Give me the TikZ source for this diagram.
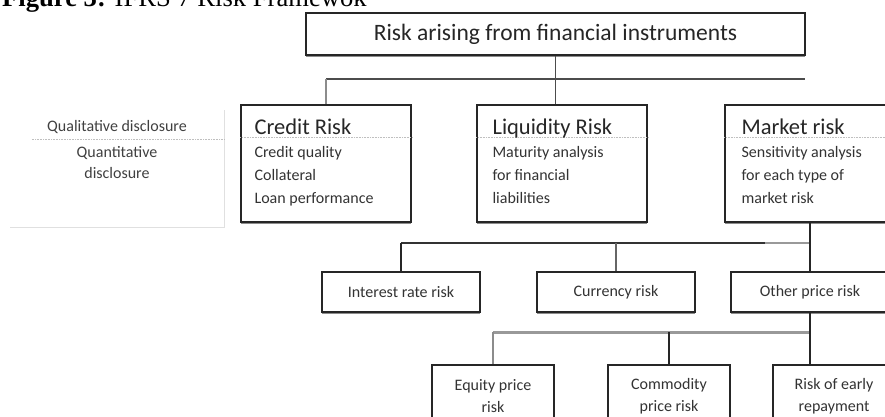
\documentclass[tikz,border=0pt]{standalone}
\usepackage{fontspec}
\setmainfont{Carlito}
\newfontfamily\titlefont{Liberation Serif}
\usetikzlibrary{positioning,shadows}

\tikzset{
  box/.style={draw=black!85, line width=1.3pt, fill=white, inner sep=0pt,
    drop shadow={shadow xshift=0pt, shadow yshift=-1.6pt, fill=black!45, opacity=1}},
  head/.style={font=\fontsize{22.5}{25}\selectfont, text=black!85, inner sep=0pt, anchor=north west},
  body/.style={font=\fontsize{16}{23}\selectfont, text=black!80, inner sep=0pt, align=left},
  faint/.style={draw=black!12, line width=1pt},
  sepline/.style={draw=black!25, line width=0.6pt, densely dotted},
  bus/.style={draw=black!70, line width=2.6pt},
  conn/.style={draw=black!85, line width=1.6pt},
  lightconn/.style={draw=black!45, line width=1.6pt}
}

\begin{document}
\begin{tikzpicture}[x=1pt, y=-1pt]
    \useasboundingbox (0,0) rectangle (885,416);
    \clip (0,0) rectangle (885,416);

    % titre (coupé en haut)
    \node[anchor=base west, inner sep=0pt, font=\titlefont\fontsize{26.6}{30}\selectfont] (title) at (2,6)
      {\textbf{Figure 3:} IFRS 7 Risk Framewok};

    % boîte racine
    \node[box, minimum width=499pt, minimum height=42pt, font=\fontsize{23.5}{26}\selectfont, text=black!85]
      (root) at (555.5,34) {Risk arising from financial instruments};

    % légende à gauche
    \node[minimum width=214pt, minimum height=117pt, inner sep=0pt] (disc) at (117,168.5) {};
    \draw[faint] (disc.south west) -- (disc.south east) -- (disc.north east);
    \draw[sepline] ([shift={(22pt,-29pt)}]disc.north west) -- ([yshift=-29pt]disc.north east);
    \node[body, text=black!75] (qual) at (117,127) {Qualitative disclosure};
    \node[body, align=center, text=black!75, font=\fontsize{16}{21}\selectfont] (quant) at (117,162.5) {Quantitative\\disclosure};

    % les trois risques
    \node[box, minimum width=170pt, minimum height=117pt] (credit) at (326,163.5) {};
    \node[box, minimum width=170pt, minimum height=117pt] (liq) at (562,163.5) {};
    \node[box, minimum width=170pt, minimum height=117pt] (mkt) at (810,163.5) {};

    \foreach \b in {credit,liq,mkt}
      \draw[sepline] ([yshift=-33pt]\b.north west) -- ([yshift=-33pt]\b.north east);

    \node[head, below right=14pt and 14pt of credit.north west] (credittitle) {Credit Risk};
    \node[body, anchor=north west, below right=42pt and 14pt of credit.north west] (credittext)
      {Credit quality\\Collateral\\Loan performance};
    \node[head, below right=14pt and 16pt of liq.north west] (liqtitle) {Liquidity Risk};
    \node[body, anchor=north west, below right=42pt and 16pt of liq.north west] (liqtext)
      {Maturity analysis\\for financial\\liabilities};
    \node[head, below right=14pt and 17pt of mkt.north west] (mkttitle) {Market risk};
    \node[body, anchor=north west, below right=42pt and 17pt of mkt.north west] (mkttext)
      {Sensitivity analysis\\for each type of\\market risk};

    % risques de marché
    \node[box, minimum width=158pt, minimum height=40pt, font=\fontsize{16}{19}\selectfont, text=black!80]
      (interest) at (401,292) {Interest rate risk};
    \node[box, minimum width=158pt, minimum height=40pt, font=\fontsize{16}{19}\selectfont, text=black!80]
      (currency) at (616,292) {Currency risk};
    \node[box, minimum width=158pt, minimum height=40pt, font=\fontsize{16}{19}\selectfont, text=black!80]
      (other) at (810,292) {Other price risk};

    % autres risques de prix
    \node[box, minimum width=122pt, minimum height=62pt, align=center, font=\fontsize{16}{22}\selectfont, text=black!80]
      (equity) at (493,396) {Equity price\\risk};
    \node[box, minimum width=122pt, minimum height=62pt, align=center, font=\fontsize{16}{22}\selectfont, text=black!80]
      (commodity) at (669,396) {Commodity\\price risk};
    \node[box, minimum width=122pt, minimum height=62pt, align=center, font=\fontsize{16}{22}\selectfont, text=black!80]
      (early) at (834,396) {Risk of early\\repayment};

    % liaisons
    \coordinate (topbus) at (0,79);
    \coordinate (midbus) at (0,243);
    \coordinate (lowbus) at (0,332);

    \draw[bus] (credit.north |- topbus) -- ([xshift=-5pt]mkt.north |- topbus);
    \draw[lightconn] (credit.north |- topbus) -- (credit.north);
    \draw[conn, draw=black!70] (root.south) -- (root.south |- liq.north);

    \draw[bus, draw=black!80, line width=2pt] (interest.north |- midbus) -- (mkt.south |- midbus);
    \draw[bus, draw=black!40, line width=2pt] ([xshift=-45pt]mkt.south |- midbus) -- (mkt.south |- midbus);
    \draw[conn] (interest.north |- midbus) -- (interest.north);
    \draw[lightconn, draw=black!60] (currency.north |- midbus) -- (currency.north);
    \draw[conn] (mkt.south) -- (other.north);

    \draw[bus, draw=black!40, line width=3pt] (equity.north |- lowbus) -- (other.south |- lowbus);
    \draw[lightconn] (equity.north |- lowbus) -- (equity.north);
    \draw[conn] (commodity.north |- lowbus) -- (commodity.north);
    \draw[conn] (other.south) -- (other.south |- early.north);

\end{tikzpicture}
\end{document}
